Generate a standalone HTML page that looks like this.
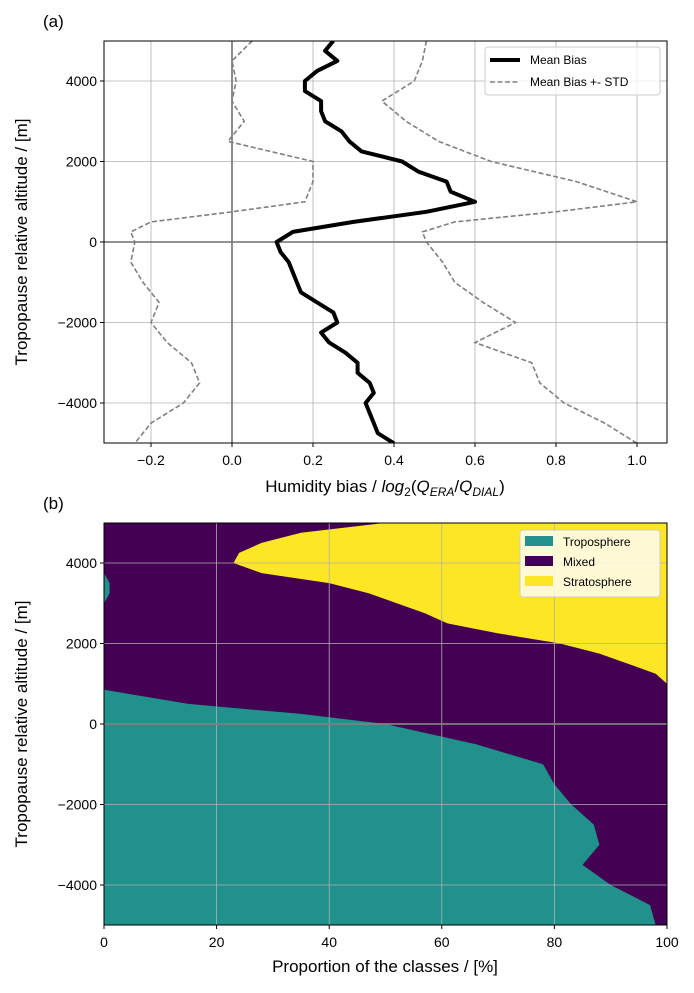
<!DOCTYPE html>
<html><head><meta charset="utf-8"><style>
body{margin:0;background:#fff;}
svg text{font-family:"Liberation Sans","DejaVu Sans",sans-serif;fill:#000;}
</style></head><body>
<svg id="fig" width="694" height="988" xmlns="http://www.w3.org/2000/svg"></svg>
<script>
const NS="http://www.w3.org/2000/svg";
// Panel (a) data
const altA=[5000,4750,4500,4250,4000,3750,3500,3250,3000,2750,2500,2250,2000,1750,1500,1250,1000,750,500,250,0,-250,-500,-750,-1000,-1250,-1500,-1750,-2000,-2250,-2500,-2750,-3000,-3250,-3500,-3750,-4000,-4250,-4500,-4750,-5000];
const meanBias=[0.25,0.23,0.26,0.21,0.18,0.18,0.22,0.22,0.23,0.27,0.29,0.32,0.42,0.46,0.53,0.54,0.60,0.48,0.30,0.15,0.11,0.12,0.14,0.15,0.16,0.17,0.21,0.25,0.26,0.22,0.24,0.28,0.31,0.31,0.34,0.35,0.33,0.34,0.35,0.36,0.40];
const altStd=[5000,4500,4000,3500,3000,2500,2000,1500,1000,750,500,250,0,-500,-1000,-1500,-2000,-2500,-3000,-3500,-4000,-4500,-5000];
const upperStd=[0.48,0.47,0.45,0.37,0.43,0.51,0.64,0.85,1.0,0.80,0.55,0.47,0.48,0.52,0.55,0.62,0.70,0.60,0.74,0.76,0.82,0.92,1.0];
const lowerStd=[0.05,0.0,0.01,0.0,0.03,-0.01,0.2,0.2,0.18,0.0,-0.2,-0.25,-0.24,-0.25,-0.22,-0.18,-0.2,-0.16,-0.1,-0.08,-0.12,-0.2,-0.24];
const xTicksA=[-0.2,0.0,0.2,0.4,0.6,0.8,1.0];
const yTicks=[-4000,-2000,0,2000,4000];
// Panel (b) data
const altB=[5000,4750,4500,4250,4000,3750,3500,3250,3000,2750,2500,2250,2000,1750,1500,1250,1000,850,500,250,0,-250,-500,-1000,-1500,-2000,-2500,-3000,-3500,-4000,-4500,-5000];
const tropo=[0,0,0,0,0,0,1,1,0,0,0,0,0,0,0,0,0,0,15,35,50,58,66,78,80,83,87,88,85,90,97,98];
const tropoMixed=[50,35,28,24,23,28,40,47,52,57,61,70,81,88,93,98,100,100,100,100,100,100,100,100,100,100,100,100,100,100,100,100];
const xTicksB=[0,20,40,60,80,100];

const svg=document.getElementById('fig');
function el(tag,attrs,parent){const e=document.createElementNS(NS,tag);for(const k in attrs)e.setAttribute(k,attrs[k]);(parent||svg).appendChild(e);return e;}
function txt(s,attrs,parent){const t=el('text',attrs,parent);t.textContent=s;return t;}

const L=104,R=667;
const xa=v=>232+(v)*405;
const ya=a=>242-a*0.04025;
const xb=v=>L+v*5.63;
const yb=a=>724-a*0.04025;

// ===== Panel A =====
const gA=el('g',{});

el('defs',{}).innerHTML='<clipPath id="ca"><rect x="104" y="41" width="563" height="402"/></clipPath><clipPath id="cb"><rect x="104" y="523" width="563" height="402"/></clipPath>';
xTicksA.forEach(v=>{
  const l=el('line',{x1:xa(v),x2:xa(v),y1:41,y2:443,stroke:'#b0b0b0','stroke-width':0.8},gA);
  
  el('line',{x1:xa(v),x2:xa(v),y1:443,y2:447,stroke:'#000'},gA);
  const t=txt(v.toFixed(1).replace('-','−'),{x:xa(v),y:465,'font-size':14,'text-anchor':'middle'},gA);
  
});
yTicks.forEach(v=>{
  el('line',{x1:L,x2:R,y1:ya(v),y2:ya(v),stroke:'#b0b0b0','stroke-width':0.8},gA);
  el('line',{x1:L-4,x2:L,y1:ya(v),y2:ya(v),stroke:'#000'},gA);
  const t=txt(String(v).replace('-','−'),{x:L-7,y:ya(v)+5,'font-size':14,'text-anchor':'end'},gA);
  
});
el('line',{x1:L,x2:R,y1:ya(0),y2:ya(0),stroke:'#808080','stroke-width':1.8},gA);
el('line',{x1:xa(0),x2:xa(0),y1:41,y2:443,stroke:'#808080','stroke-width':1.8},gA);
const cA=el('g',{'clip-path':'url(#ca)'},gA);
function linePts(xs,ys,fx,fy){return xs.map((v,i)=>fx(v).toFixed(1)+','+fy(ys[i]).toFixed(1)).join(' ');}
let p=el('polyline',{points:linePts(upperStd,altStd,xa,ya),fill:'none',stroke:'#808080','stroke-width':1.6,'stroke-dasharray':'5,2.5'},cA);

p=el('polyline',{points:linePts(lowerStd,altStd,xa,ya),fill:'none',stroke:'#808080','stroke-width':1.6,'stroke-dasharray':'5,2.5'},cA);

p=el('polyline',{points:linePts(meanBias,altA,xa,ya),fill:'none',stroke:'#000','stroke-width':4,'stroke-linejoin':'round'},cA);

el('rect',{x:L,y:41,width:R-L,height:402,fill:'none',stroke:'#000','stroke-width':1},gA);
const lgA=el('g',{},gA);
el('rect',{x:485,y:47,width:175,height:48,rx:3,fill:'#fff','fill-opacity':0.8,stroke:'#ccc'},lgA);
el('line',{x1:490,x2:520,y1:60,y2:60,stroke:'#000','stroke-width':4},lgA);
txt('Mean Bias',{x:530,y:64,'font-size':12},lgA);
el('line',{x1:490,x2:520,y1:82,y2:82,stroke:'#808080','stroke-width':1.6,'stroke-dasharray':'5,2.5'},lgA);
txt('Mean Bias +- STD',{x:530,y:86,'font-size':12},lgA);
let t=txt('(a)',{x:43,y:27,'font-size':17},gA);
t=txt('Tropopause relative altitude / [m]',{x:0,y:0,'font-size':17,'text-anchor':'middle',transform:'translate(27,242) rotate(-90)'},gA);

t=el('text',{x:385,y:492,'font-size':17,'text-anchor':'middle'},gA);
t.innerHTML='Humidity bias / <tspan font-style="italic">log</tspan><tspan font-size="12" dy="4">2</tspan><tspan dy="-4">(</tspan><tspan font-style="italic">Q</tspan><tspan font-size="12" dy="4" font-style="italic">ERA</tspan><tspan dy="-4">/</tspan><tspan font-style="italic">Q</tspan><tspan font-size="12" dy="4" font-style="italic">DIAL</tspan><tspan dy="-4">)</tspan>';


// ===== Panel B =====
const gB=el('g',{});
const cB=el('g',{'clip-path':'url(#cb)'},gB);
p=el('rect',{x:L,y:523,width:R-L,height:402,fill:'#fde725'},cB);

function areaPts(vals){const a=vals.map((v,i)=>xb(v).toFixed(1)+','+yb(altB[i]).toFixed(1));return xb(0)+','+yb(altB[0])+' '+a.join(' ')+' '+xb(0)+','+yb(altB[altB.length-1]);}
p=el('polygon',{points:areaPts(tropoMixed),fill:'#440154'},cB);

p=el('polygon',{points:areaPts(tropo),fill:'#21918c'},cB);

xTicksB.forEach(v=>{
  el('line',{x1:xb(v),x2:xb(v),y1:523,y2:925,stroke:'#b0b0b0','stroke-width':0.8},gB);
  el('line',{x1:xb(v),x2:xb(v),y1:925,y2:929,stroke:'#000'},gB);
  const t=txt(String(v),{x:xb(v),y:947,'font-size':14,'text-anchor':'middle'},gB);
  
});
yTicks.forEach(v=>{
  el('line',{x1:L,x2:R,y1:yb(v),y2:yb(v),stroke:'#b0b0b0','stroke-width':0.8},gB);
  el('line',{x1:L-4,x2:L,y1:yb(v),y2:yb(v),stroke:'#000'},gB);
  const t=txt(String(v).replace('-','−'),{x:L-7,y:yb(v)+5,'font-size':14,'text-anchor':'end'},gB);
  
});
el('line',{x1:L,x2:R,y1:yb(0),y2:yb(0),stroke:'#808080','stroke-width':1.8},gB);
el('rect',{x:L,y:523,width:R-L,height:402,fill:'none',stroke:'#000','stroke-width':1},gB);
const lgB=el('g',{},gB);
el('rect',{x:520,y:530,width:140,height:67,rx:3,fill:'#fff','fill-opacity':0.8,stroke:'#ccc'},lgB);
[['Troposphere','#21918c'],['Mixed','#440154'],['Stratosphere','#fde725']].forEach((d,i)=>{
  el('rect',{x:525,y:536+i*20,width:28,height:10,fill:d[1]},lgB);
  txt(d[0],{x:563,y:546+i*20,'font-size':12},lgB);
});
t=txt('(b)',{x:43,y:509,'font-size':17},gB);
t=txt('Tropopause relative altitude / [m]',{x:0,y:0,'font-size':17,'text-anchor':'middle',transform:'translate(27,724) rotate(-90)'},gB);

t=txt('Proportion of the classes / [%]',{x:385,y:972,'font-size':17,'text-anchor':'middle'},gB);

</script>
</body></html>
